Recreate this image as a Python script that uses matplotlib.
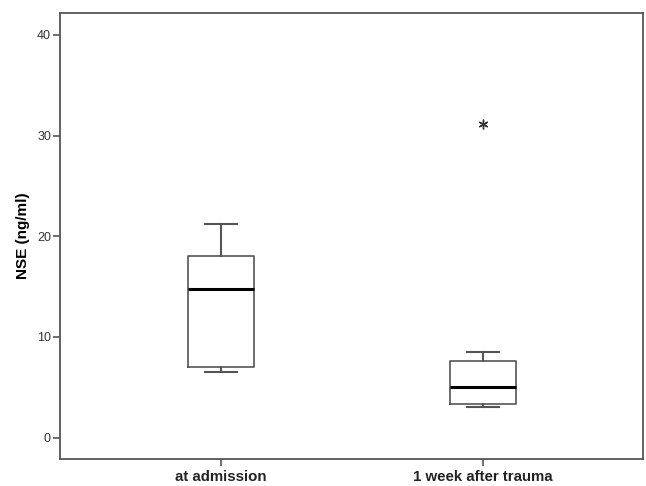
import matplotlib
matplotlib.use("Agg")
import matplotlib.pyplot as plt

categories = ["at admission", "1 week after trauma"]
whislo = [6.52, 3.05]
q1 = [6.99, 3.32]
med = [14.8, 5.0]
q3 = [18.04, 7.62]
whishi = [21.25, 8.54]
fliers = [[], [31.1]]
yticks = [0, 10, 20, 30, 40]

plt.rcParams['font.family'] = ['Liberation Sans', 'DejaVu Sans']

fig = plt.figure(figsize=(6.46, 4.86), dpi=100)
ax = fig.add_axes([60/646, 1-459.3/486, 583/646, 446.3/486])

stats = []
for i, c in enumerate(categories):
    stats.append(dict(label=c, whislo=whislo[i], q1=q1[i], med=med[i],
                      q3=q3[i], whishi=whishi[i], fliers=fliers[i]))

edge = '#555555'
ax.bxp(stats, positions=[1, 2], widths=0.252, showfliers=True,
       boxprops=dict(color=edge, linewidth=1.2),
       whiskerprops=dict(color=edge, linewidth=1.5),
       capprops=dict(color=edge, linewidth=1.5),
       capwidths=0.122,
       medianprops=dict(color='black', linewidth=2.2),
       flierprops=dict(marker=(6, 2, 0), markersize=7, markeredgecolor='#333333',
                       markeredgewidth=1.0, linestyle='none'))

ax.set_xlim(0.3855, 2.611)
ax.set_ylim(-2.15, 42.17)
ax.set_yticks(yticks)
ax.set_yticklabels([str(t) for t in yticks], fontsize=9, color='#333333')
ax.set_xticks([1, 2])
ax.set_xticklabels(categories, fontsize=10.8, fontweight='bold', color='#222222')
ax.tick_params(axis='y', color=edge, length=5, width=1.2, pad=1.5)
ax.tick_params(axis='x', color=edge, length=5, width=1.2, pad=3)
ax.set_ylabel("NSE (ng/ml)", fontsize=11, fontweight='bold', labelpad=5)
for s in ax.spines.values():
    s.set_color(edge)
    s.set_linewidth(1.3)

fig.savefig("out.png", dpi=100)
